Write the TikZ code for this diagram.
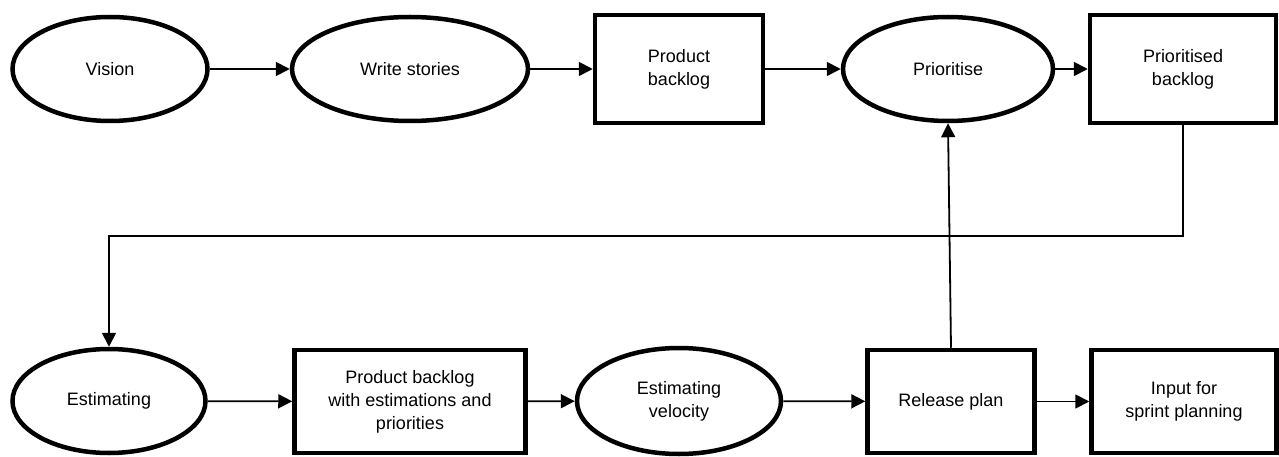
\documentclass[tikz,border=0pt]{standalone}
\usepackage{fontspec}
\setmainfont{Liberation Sans}
\usetikzlibrary{shapes.geometric,arrows.meta}
\begin{document}
\begin{tikzpicture}[x=1pt,y=-1pt,
  every node/.style={font=\fontsize{18}{23}\selectfont, align=center, inner sep=0pt},
  oval/.style={ellipse, draw, line width=4.5pt, minimum height=104pt},
  box/.style={rectangle, draw, line width=4.5pt},
  flow/.style={line width=1.8pt, -{Triangle[length=14pt,width=14pt]}}
]
\useasboundingbox (0,0) rectangle (1279,457);

% upper row
\node[oval, minimum width=195pt] (vision) at (110,69) {Vision};
\node[oval, minimum width=236pt] (write) at (410,69) {Write stories};
\node[box, minimum width=168pt, minimum height=108pt] (pb) at (679,69) {Product\\backlog};
\node[oval, minimum width=210pt] (prio) at (948,69) {Prioritise};
\node[box, minimum width=186pt, minimum height=108pt] (pbl) at (1183,69) {Prioritised\\backlog};

% lower row
\node[oval, minimum width=193pt] (est) at (109,401) {Estimating};
\node[box, minimum width=231pt, minimum height=103pt] (pbe) at (410,401.5) {Product backlog\\with estimations and\\priorities};
\node[oval, minimum width=204pt, minimum height=106pt] (vel) at (679,401) {Estimating\\velocity};
\node[box, minimum width=167pt, minimum height=103pt] (rel) at (951,401.5) {Release plan};
\node[box, minimum width=185pt, minimum height=103pt] (inp) at (1184,401.5) {Input for\\sprint planning};

% connectors
\draw[flow] (vision) -- (write);
\draw[flow] (write) -- (pb);
\draw[flow] (pb) -- (prio);
\draw[flow] (prio) -- (pbl);

\coordinate (turn) at (600,236);
\draw[flow] (pbl.south) |- (turn) -| (est.north);

\draw[flow] (est) -- (pbe);
\draw[flow] (pbe) -- (vel);
\draw[flow] (vel) -- (rel);
\draw[flow] (rel) -- (inp);
\draw[flow] (rel.north) -- (prio.south);
\end{tikzpicture}
\end{document}
